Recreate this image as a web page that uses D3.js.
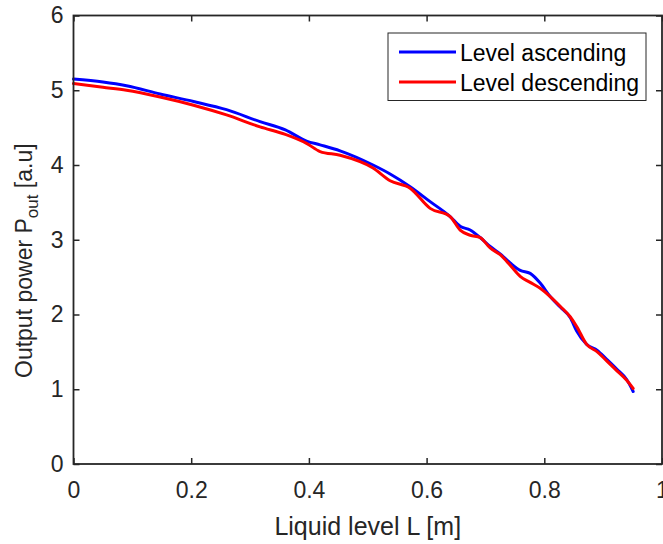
<!DOCTYPE html>
<html><head><meta charset="utf-8">
<script src="https://cdn.jsdelivr.net/npm/d3@7"></script>
<style>body{margin:0;background:#fff;} svg{display:block;font-family:"Liberation Sans",Arial,sans-serif;}</style>
</head><body><div id="chart"></div>
<script>
const levelAsc = [0,0.05,0.09,0.147,0.204,0.26,0.317,0.36,0.396,0.419,0.453,0.509,0.538,0.572,0.606,0.64,0.657,0.674,0.691,0.708,0.725,0.742,0.759,0.776,0.793,0.81,0.827,0.844,0.855,0.872,0.89,0.906,0.923,0.94,0.951];
const powerAsc = [5.15,5.11,5.06,4.95,4.85,4.74,4.58,4.47,4.32,4.27,4.19,4.0,3.88,3.71,3.51,3.31,3.18,3.13,3.03,2.91,2.81,2.69,2.59,2.55,2.42,2.24,2.10,1.96,1.78,1.60,1.52,1.40,1.27,1.13,0.97];
const levelDesc = [0,0.05,0.09,0.147,0.204,0.26,0.317,0.36,0.396,0.419,0.453,0.509,0.538,0.572,0.606,0.64,0.657,0.674,0.691,0.708,0.725,0.742,0.759,0.776,0.793,0.81,0.827,0.844,0.855,0.872,0.89,0.906,0.923,0.94,0.951];
const powerDesc = [5.09,5.04,5.00,4.91,4.80,4.67,4.51,4.41,4.29,4.18,4.13,3.96,3.79,3.69,3.42,3.31,3.13,3.06,3.03,2.89,2.80,2.66,2.51,2.43,2.35,2.24,2.11,1.97,1.84,1.60,1.50,1.38,1.25,1.12,1.01];
const xTicks = [0,0.2,0.4,0.6,0.8,1];
const yTicks = [0,1,2,3,4,5,6];
const seriesNames = ["Level ascending","Level descending"];
const seriesColors = ["#0000ff","#ff0000"];

(function(){
const W = 663, H = 544;
const pL = 73.5, pR = 662, pT = 15.5, pB = 464;
const svg = d3.select("#chart").append("svg").attr("width", W).attr("height", H);
const x = d3.scaleLinear().domain([0,1]).range([pL,pR]);
const y = d3.scaleLinear().domain([0,6]).range([pB,pT]);
const axisColor = "#262626";

const line = d3.line().x(d=>x(d[0])).y(d=>y(d[1])).curve(d3.curveMonotoneX);
const series = [
  d3.zip(levelAsc, powerAsc),
  d3.zip(levelDesc, powerDesc)
];
series.forEach((s,i)=>{
  svg.append("path").datum(s).attr("d", line).attr("fill","none")
    .attr("stroke", seriesColors[i]).attr("stroke-width", 3).attr("stroke-linejoin","round").attr("stroke-linecap","round");
});

function styleAxis(g){
  g.select(".domain").remove();
  g.selectAll("line").attr("stroke", axisColor).attr("stroke-width", 1.5);
  g.selectAll("text").attr("fill", axisColor).style("font-size","23px");
}
const fmt = d => String(d);
svg.append("g").attr("transform",`translate(0,${pB})`)
  .call(d3.axisBottom(x).tickValues(xTicks).tickSize(-6).tickPadding(18).tickFormat(fmt)).call(styleAxis);
svg.append("g").attr("transform",`translate(0,${pT})`)
  .call(d3.axisTop(x).tickValues(xTicks).tickSize(-6).tickFormat("")).call(styleAxis);
svg.append("g").attr("transform",`translate(${pL},0)`)
  .call(d3.axisLeft(y).tickValues(yTicks).tickSize(-6).tickPadding(10).tickFormat(d3.format("d"))).call(styleAxis);
svg.append("g").attr("transform",`translate(${pR},0)`)
  .call(d3.axisRight(y).tickValues(yTicks).tickSize(-6).tickFormat("")).call(styleAxis);

svg.append("rect").attr("x",pL).attr("y",pT).attr("width",pR-pL).attr("height",pB-pT)
  .attr("fill","none").attr("stroke",axisColor).attr("stroke-width",1.8);

svg.append("text").attr("x",(pL+pR)/2).attr("y",535).attr("text-anchor","middle")
  .attr("fill",axisColor).style("font-size","25px").text("Liquid level L [m]");
const yl = svg.append("text").attr("transform",`translate(32,378) rotate(-90)`)
  .attr("text-anchor","start").attr("fill",axisColor).style("font-size","23px");
yl.append("tspan").text("Output power P");
yl.append("tspan").attr("dy",6).style("font-size","17px").text("out");
yl.append("tspan").attr("dy",-6).text(" [a.u]");

const lg = svg.append("g");
lg.append("rect").attr("x",388).attr("y",33).attr("width",258).attr("height",67.5)
  .attr("fill","#fff").attr("stroke","#262626").attr("stroke-width",1);
seriesNames.forEach((n,i)=>{
  const yy = 52 + i*30;
  lg.append("line").attr("x1",399).attr("x2",456).attr("y1",yy).attr("y2",yy)
    .attr("stroke",seriesColors[i]).attr("stroke-width",3);
  lg.append("text").attr("x",460).attr("y",yy+8.7).attr("fill","#000").style("font-size","23px").text(n);
});
})();
</script></body></html>
